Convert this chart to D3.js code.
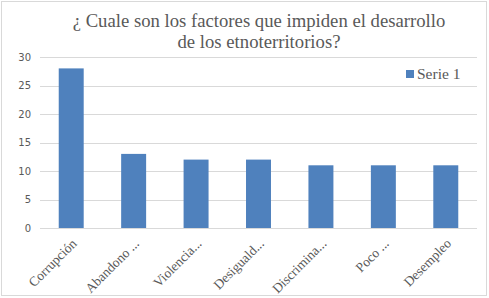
<!DOCTYPE html>
<html>
<head>
<meta charset="utf-8">
<script src="https://cdn.jsdelivr.net/npm/d3@7"></script>
<style>
  body { margin: 0; background: #fff; }
</style>
</head>
<body>
<div id="chart"></div>
<script>
// data
const categories = ["Corrupción", "Abandono ...", "Violencia...", "Desiguald...", "Discrimina...", "Poco ...", "Desempleo"];
const values = [28, 13, 12, 12, 11, 11, 11];
const yTicks = [0, 5, 10, 15, 20, 25, 30];
const titleLines = ["¿ Cuale son los factores que impiden el desarrollo", "de los etnoterritorios?"];
const seriesName = "Serie 1";

const width = 489, height = 298;
const margin = { top: 57, right: 12, bottom: 70, left: 40 };
const barColor = "#4f81bd";
const serif = "'Liberation Serif', 'Times New Roman', serif";

const svg = d3.select("#chart").append("svg")
    .attr("width", width)
    .attr("height", height);

svg.append("rect")
    .attr("x", 1.5).attr("y", 1.5)
    .attr("width", width - 4).attr("height", height - 4)
    .attr("fill", "#fff")
    .attr("stroke", "#d9d9d9");

const x = d3.scaleBand()
    .domain(categories)
    .range([margin.left, width - margin.right])
    .paddingInner(0.6)
    .paddingOuter(0.3);

const y = d3.scaleLinear()
    .domain([0, 30])
    .range([height - margin.bottom, margin.top]);

// gridlines
svg.append("g")
    .selectAll("line")
    .data(yTicks)
    .join("line")
    .attr("x1", margin.left)
    .attr("x2", width - margin.right)
    .attr("y1", d => Math.round(y(d)) + 0.5)
    .attr("y2", d => Math.round(y(d)) + 0.5)
    .attr("stroke", "#d9d9d9");

// y axis labels
const yAxis = svg.append("g")
    .attr("transform", `translate(${margin.left},0)`)
    .call(d3.axisLeft(y).tickValues(yTicks).tickSize(0).tickPadding(9));
yAxis.select(".domain").remove();
yAxis.selectAll("text")
    .style("font-family", "'DejaVu Sans'")
    .style("font-size", "10px")
    .attr("fill", "#595959");

// bars
svg.append("g")
    .selectAll("rect")
    .data(values)
    .join("rect")
    .attr("x", (d, i) => x(categories[i]))
    .attr("y", d => y(d))
    .attr("width", x.bandwidth())
    .attr("height", d => y(0) - y(d))
    .attr("fill", barColor);

// category labels, rotated like the spreadsheet ones
const xAxis = svg.append("g")
    .attr("transform", `translate(0,${y(0)})`)
    .call(d3.axisBottom(x).tickSize(0).tickPadding(0));
xAxis.select(".domain").remove();
xAxis.selectAll("text")
    .style("font-family", serif)
    .style("font-size", "13.5px")
    .attr("fill", "#595959")
    .attr("text-anchor", "end")
    .attr("dy", "0.35em")
    .attr("transform", "translate(3,13) rotate(-45)");

// title
svg.append("text")
    .attr("x", 259)
    .attr("y", 27)
    .attr("text-anchor", "middle")
    .style("font-family", serif)
    .style("font-size", "18.7px")
    .attr("fill", "#595959")
    .selectAll("tspan")
    .data(titleLines)
    .join("tspan")
    .attr("x", 259)
    .attr("dy", (d, i) => i === 0 ? 0 : 21)
    .text(d => d);

// legend
const legend = svg.append("g").attr("transform", "translate(406,70)");
legend.append("rect")
    .attr("width", 8).attr("height", 8)
    .attr("fill", barColor);
legend.append("text")
    .attr("x", 11)
    .attr("y", 4)
    .attr("dy", "0.35em")
    .style("font-family", serif)
    .style("font-size", "15.5px")
    .attr("fill", "#595959")
    .text(seriesName);
</script>
</body>
</html>
